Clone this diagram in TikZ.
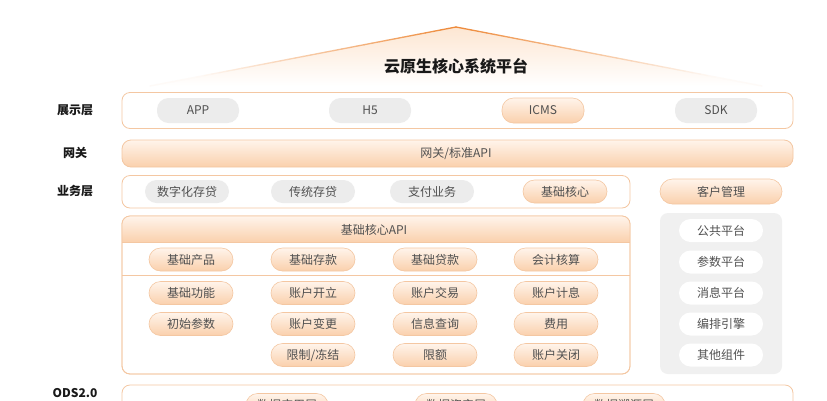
\documentclass[tikz,border=0pt]{standalone}
\usepackage{fontspec}
\setmainfont{Noto Sans CJK SC}
\usetikzlibrary{calc}
\definecolor{txt}{HTML}{505050}
\definecolor{orline}{HTML}{F4C7A2}
\definecolor{ortop}{HTML}{FFF4EB}
\definecolor{orbot}{HTML}{FAD0AC}
\definecolor{pillgray}{HTML}{ECECEC}
\definecolor{panelgray}{HTML}{F0F0F0}
\definecolor{roofc}{HTML}{EE8A3A}
\definecolor{rooffill}{HTML}{FDE6D2}
\begin{document}
\begin{tikzpicture}[x=1pt,y=-1pt,
  every node/.style={font=\fontsize{12}{14}\selectfont, text=txt},
  pill/.style={rounded corners=11.5pt, minimum width=84pt, minimum height=23pt, inner sep=0pt},
  graypill/.style={pill, fill=pillgray},
  orpill/.style={pill, draw=orline, line width=0.6pt, top color=ortop, bottom color=orbot},
  whitepill/.style={pill, fill=white},
  layerlabel/.style={font=\bfseries\fontsize{12}{14}\selectfont, text=black!90},
  frame/.style={draw=orline, line width=0.8pt, rounded corners=8pt, fill=white}]
\clip (0,0) rectangle (827,400);
\fill[white] (0,0) rectangle (827,400);

% roof
\coordinate (apex) at (456,27);
\coordinate (lb) at (150,86);
\coordinate (rb) at (762,86);
\shade[top color=rooffill, bottom color=white] (apex) -- (rb) -- (lb) -- cycle;
\foreach \i in {0,...,39}{
  \pgfmathsetmacro{\ta}{\i/40}
  \pgfmathsetmacro{\tb}{(\i+1)/40}
  \pgfmathsetmacro{\pc}{max(4,100-115*\ta)}
  \draw[roofc!\pc!white, line width=1.3pt, line cap=round] ($(apex)!\ta!(lb)$) -- ($(apex)!\tb!(lb)$);
  \draw[roofc!\pc!white, line width=1.3pt, line cap=round] ($(apex)!\ta!(rb)$) -- ($(apex)!\tb!(rb)$);
}
\node[font=\bfseries\fontsize{16}{18}\selectfont, text=black!90] (title) at (456,66) {云原生核心系统平台};

% layer labels
\node[layerlabel] (l1) at (75,110) {展示层};
\node[layerlabel] (l2) at (75,153) {网关};
\node[layerlabel] (l3) at (75,191) {业务层};
\node[layerlabel] (l4) at (75,393) {ODS2.0};

% display layer
\draw[frame] (122,92.5) rectangle (793,128.5);
\node[graypill, minimum width=82pt, minimum height=25pt] (app) at (198,110.5) {APP};
\node[graypill, minimum width=82pt, minimum height=25pt] (h5) at (370,110.5) {H5};
\node[orpill, minimum width=82pt, minimum height=25pt] (icms) at (543,110.5) {ICMS};
\node[graypill, minimum width=82pt, minimum height=25pt] (sdk) at (716,110.5) {SDK};

% gateway
\shade[draw=orline, line width=0.8pt, rounded corners=9pt, top color=ortop, bottom color=orbot] (122,140) rectangle (793,167);
\node (gw) at (456,153.5) {网关/标准API};

% business layer
\draw[frame] (122,175.5) rectangle (630,208);
\node[graypill] (b1) at (187,191.5) {数字化存贷};
\node[graypill] (b2) at (313,191.5) {传统存贷};
\node[graypill] (b3) at (432,191.5) {支付业务};
\node[orpill] (b4) at (565,191.5) {基础核心};
\node[orpill, minimum width=122pt, minimum height=25pt, rounded corners=12.5pt] (cust) at (721,191.5) {客户管理};

% core API box
\draw[frame] (122,216) rectangle (630,374);
\begin{scope}
  \clip[rounded corners=8pt] (122,216) rectangle (630,374);
  \shade[top color=ortop, bottom color=orbot] (122,216) rectangle (630,242.5);
\end{scope}
\draw[orline, line width=0.8pt] (122,242.5) -- (630,242.5);
\draw[orline, line width=0.8pt] (122,275.5) -- (630,275.5);
\draw[orline, line width=0.8pt, rounded corners=8pt] (122,216) rectangle (630,374);
\node (apih) at (374,229.5) {基础核心API};

\node[orpill] (c11) at (191,259.5) {基础产品};
\node[orpill] (c12) at (313,259.5) {基础存款};
\node[orpill] (c13) at (435,259.5) {基础贷款};
\node[orpill] (c14) at (556,259.5) {会计核算};

\node[orpill] (c21) at (191,293) {基础功能};
\node[orpill] (c22) at (313,293) {账户开立};
\node[orpill] (c23) at (435,293) {账户交易};
\node[orpill] (c24) at (556,293) {账户计息};

\node[orpill] (c31) at (191,324) {初始参数};
\node[orpill] (c32) at (313,324) {账户变更};
\node[orpill] (c33) at (435,324) {信息查询};
\node[orpill] (c34) at (556,324) {费用};

\node[orpill] (c42) at (313,355) {限制/冻结};
\node[orpill] (c43) at (435,355) {限额};
\node[orpill] (c44) at (556,355) {账户关闭};

% right panel
\fill[panelgray, rounded corners=8pt] (660,213) rectangle (782,374);
\node[whitepill] (p1) at (721,230.5) {公共平台};
\node[whitepill] (p2) at (721,262) {参数平台};
\node[whitepill] (p3) at (721,293) {消息平台};
\node[whitepill] (p4) at (721,324) {编排引擎};
\node[whitepill] (p5) at (721,355) {其他组件};

% ODS
\draw[frame] (122,385) rectangle (793,430);
\node[orpill, minimum width=82pt] (d1) at (287,405) {数据应用层};
\node[orpill, minimum width=82pt] (d2) at (456,405) {数据资产层};
\node[orpill, minimum width=82pt] (d3) at (624,405) {数据溯源层};
\end{tikzpicture}
\end{document}
